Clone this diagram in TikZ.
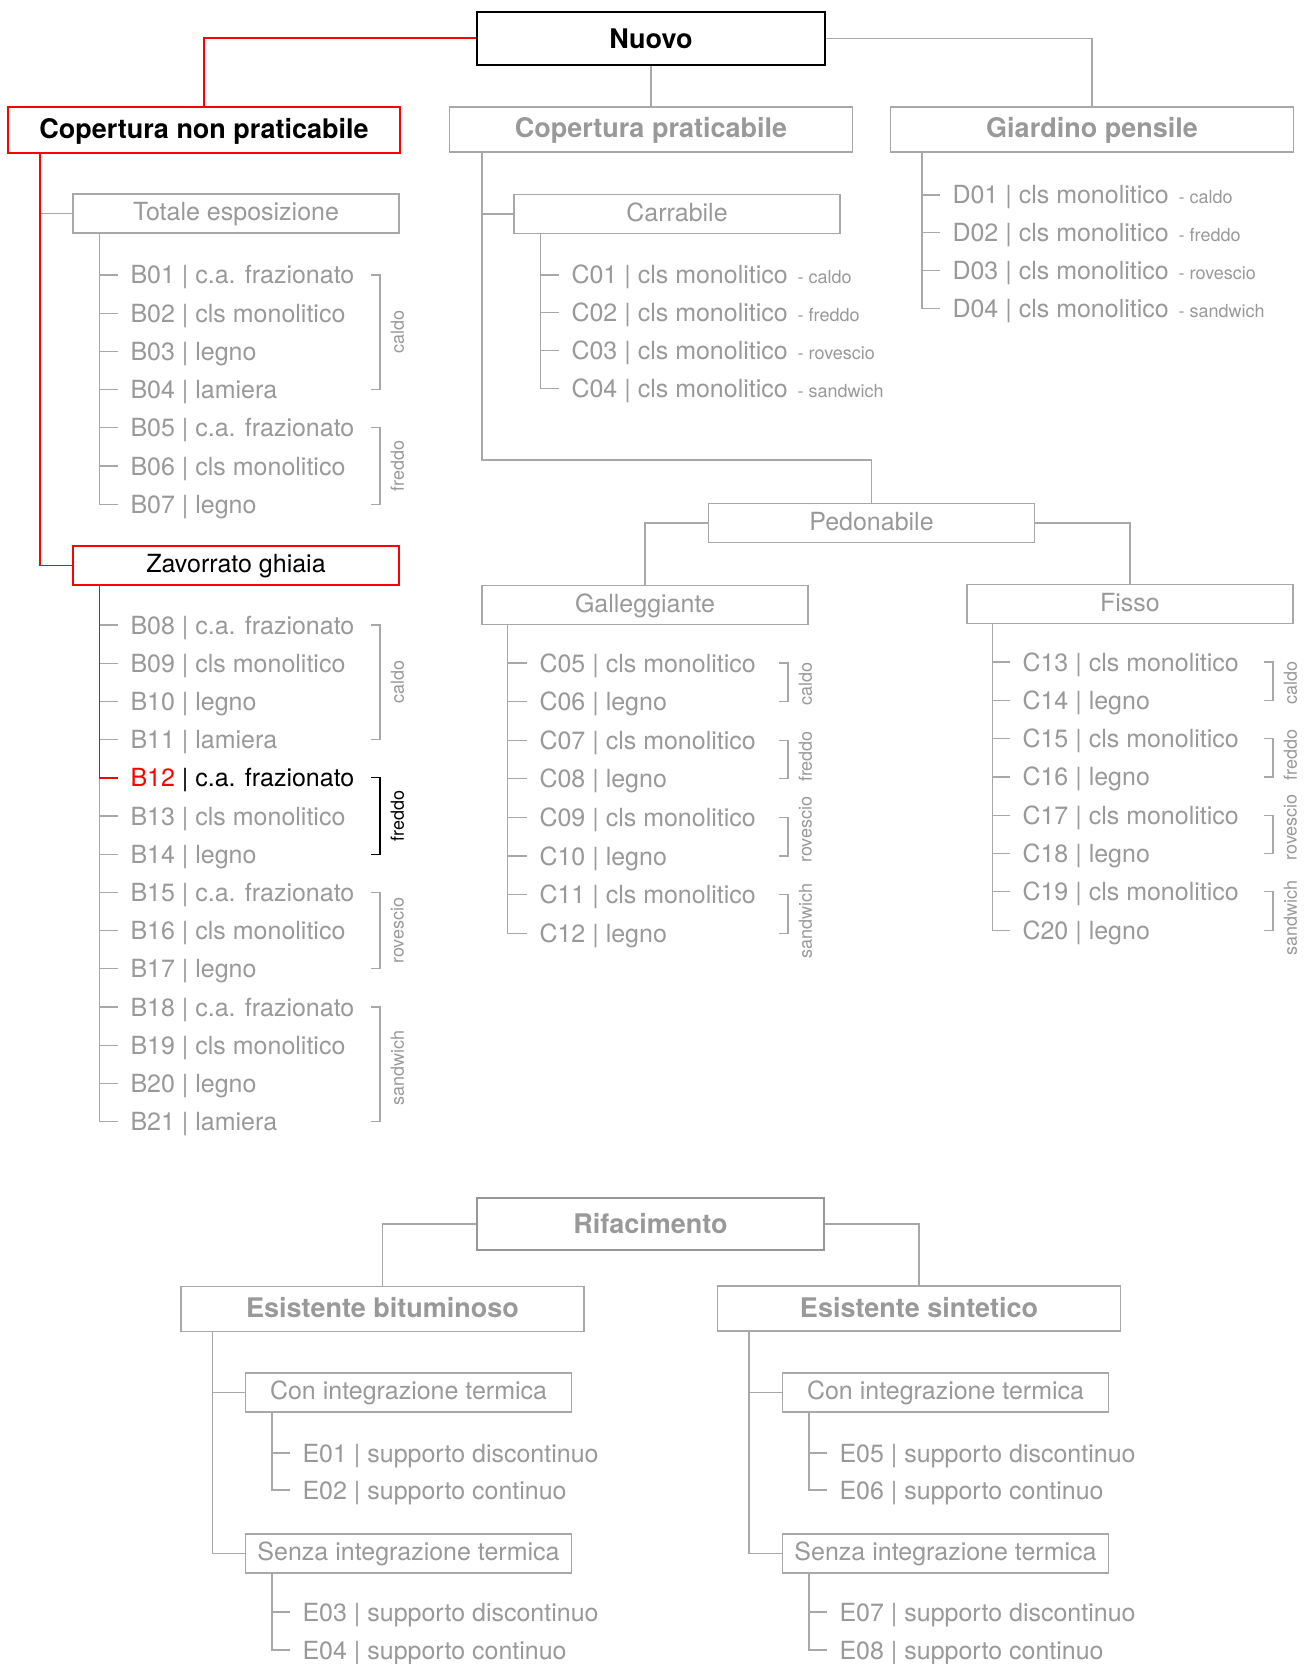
\documentclass[tikz,border=0pt]{standalone}
\usepackage{fontspec}
\setmainfont{TeX Gyre Heros}
\usetikzlibrary{positioning}
\definecolor{txtgray}{RGB}{153,153,153}
\definecolor{lngray}{RGB}{168,168,168}
\newcommand{\pxu}{0.5pt}
\newcommand{\headfont}{\fontsize{13.5}{16}\selectfont\bfseries}
\newcommand{\itemfont}{\fontsize{12.5}{15}\selectfont}
\newcommand{\tagfont}{\fontsize{9}{11}\selectfont}
\newcommand{\suff}[1]{\hspace{1.5pt}{\tagfont #1}}
\begin{document}
\begin{tikzpicture}[x=0.5pt, y=-0.5pt,
  line/.style={draw=lngray, line width=0.6pt},
  redline/.style={draw=red, line width=0.8pt},
  headbox/.style={draw=lngray, line width=0.6pt, inner sep=0pt, minimum width=403*\pxu, minimum height=45*\pxu, font=\headfont, text=txtgray, text height=9.7pt, text depth=1.2pt},
  topbox/.style={headbox, draw=black, line width=1.3pt, text=black, text depth=0pt, minimum width=348*\pxu, minimum height=53*\pxu},
  rifbox/.style={headbox, draw=lngray!90!black, line width=1pt, text depth=0pt, minimum width=347*\pxu, minimum height=52*\pxu},
  redhead/.style={headbox, draw=red, line width=1pt, text=black, minimum width=392*\pxu, minimum height=46*\pxu},
  subbox/.style={draw=lngray, line width=0.6pt, inner sep=0pt, minimum width=326*\pxu, minimum height=39*\pxu, font=\itemfont, text=txtgray, text height=9pt, text depth=1.6pt},
  redsub/.style={subbox, draw=red, text=black},
  item/.style={anchor=west, inner sep=0pt, outer xsep=6.25pt, text height=9pt, text depth=0pt, font=\itemfont, text=txtgray},
  tag/.style={rotate=90, inner sep=0pt, font=\tagfont, text=txtgray}]
  \useasboundingbox (0,0) rectangle (1305,1664);

  % boxes
  \node[topbox] (nuovo) at (651,38.5) {Nuovo};
  \node[redhead] (cnp) at (204,130) {Copertura non praticabile};
  \node[headbox] (cp) at (651,129.5) {Copertura praticabile};
  \node[headbox] (gp) at (1092,129.5) {Giardino pensile};
  \node[subbox] (tot) at (236,213.5) {Totale esposizione};
  \node[redsub] (zav) at (236,565.5) {Zavorrato ghiaia};
  \node[subbox] (carr) at (677,214) {Carrabile};
  \node[subbox] (ped) at (871.5,523) {Pedonabile};
  \node[subbox] (gal) at (645,605) {Galleggiante};
  \node[subbox] (fis) at (1130,604) {Fisso};
  \node[rifbox] (rif) at (650.5,1224) {Rifacimento};
  \node[headbox] (eb) at (382.5,1309) {Esistente bituminoso};
  \node[headbox] (es) at (919,1308.5) {Esistente sintetico};
  \node[subbox] (con1) at (408.5,1392.5) {Con integrazione termica};
  \node[subbox] (sen1) at (408.5,1553.5) {Senza integrazione termica};
  \node[subbox] (con2) at (945.5,1392.5) {Con integrazione termica};
  \node[subbox] (sen2) at (945.5,1553.5) {Senza integrazione termica};

  % items
  \foreach \n/\txt [count=\i from 0] in {B01/c.a. frazionato, B02/cls monolitico, B03/legno, B04/lamiera, B05/c.a. frazionato, B06/cls monolitico, B07/legno}
    \node[item] (\n) at (118,275+38.2*\i) {\n{} | \txt};
  \foreach \n/\txt/\i in {B08/c.a. frazionato/0, B09/cls monolitico/1, B10/legno/2, B11/lamiera/3, B13/cls monolitico/5, B14/legno/6, B15/c.a. frazionato/7, B16/cls monolitico/8, B17/legno/9, B18/c.a. frazionato/10, B19/cls monolitico/11, B20/legno/12, B21/lamiera/13}
    \node[item] (\n) at (118,625+38.2*\i) {\n{} | \txt};
  \node[item, text=black] (B12) at (118,625+38.2*4) {\textcolor{red}{B12} | c.a. frazionato};
  \foreach \n/\txt [count=\i from 0] in {C01/caldo, C02/freddo, C03/rovescio, C04/sandwich}
    \node[item] (\n) at (559,275+37.7*\i) {\n{} | cls monolitico \suff{- \txt}};
  \foreach \n/\txt [count=\i from 0] in {D01/caldo, D02/freddo, D03/rovescio, D04/sandwich}
    \node[item] (\n) at (940,195+37.7*\i) {\n{} | cls monolitico \suff{- \txt}};
  \foreach \n/\txt [count=\i from 0] in {C05/cls monolitico, C06/legno, C07/cls monolitico, C08/legno, C09/cls monolitico, C10/legno, C11/cls monolitico, C12/legno}
    \node[item] (\n) at (527,663+38.6*\i) {\n{} | \txt};
  \foreach \n/\txt [count=\i from 0] in {C13/cls monolitico, C14/legno, C15/cls monolitico, C16/legno, C17/cls monolitico, C18/legno, C19/cls monolitico, C20/legno}
    \node[item] (\n) at (1010,662+38.3*\i) {\n{} | \txt};
  \foreach \n/\txt/\x/\y in {E01/discontinuo/290/1453, E02/continuo/290/1490, E03/discontinuo/290/1612, E04/continuo/290/1650, E05/discontinuo/827/1453, E06/continuo/827/1490, E07/discontinuo/827/1612, E08/continuo/827/1650}
    \node[item] (\n) at (\x,\y) {\n{} | supporto \txt};

  % spines
  \coordinate (cnpS) at ([xshift=16.5pt]cnp.south west);
  \coordinate (totS) at ([xshift=13.5pt]tot.south west);
  \coordinate (zavS) at ([xshift=13.5pt]zav.south west);
  \coordinate (cpS) at ([xshift=16.5pt]cp.south west);
  \coordinate (carrS) at ([xshift=13.5pt]carr.south west);
  \coordinate (gpS) at ([xshift=16pt]gp.south west);
  \coordinate (galS) at ([xshift=13pt]gal.south west);
  \coordinate (fisS) at ([xshift=13pt]fis.south west);
  \coordinate (ebS) at ([xshift=16pt]eb.south west);
  \coordinate (esS) at ([xshift=16pt]es.south west);
  \coordinate (con1S) at ([xshift=13.5pt]con1.south west);
  \coordinate (sen1S) at ([xshift=13.5pt]sen1.south west);
  \coordinate (con2S) at ([xshift=13.5pt]con2.south west);
  \coordinate (sen2S) at ([xshift=13.5pt]sen2.south west);
  \coordinate (pedK) at ([yshift=21.5pt]ped.north);

  % connectors
  \draw[line] (nuovo.south) -- (cp.north);
  \draw[line] (nuovo.east) -| (gp.north);
  \draw[redline, line width=1pt] (nuovo.west) -| (cnp.north);
  \draw[line] (cnpS |- tot.west) -- (tot.west);
  \draw[redline] (cnpS) |- (zav.west);
  \draw[line] (cpS |- carr.west) -- (carr.west);
  \draw[line] (cpS) |- (pedK) -- (ped.north);
  \draw[line] (ped.west) -| (gal.north);
  \draw[line] (ped.east) -| (fis.north);
  \draw[line] (rif.west) -| (eb.north);
  \draw[line] (rif.east) -| (es.north);
  \draw[line] (ebS |- con1.west) -- (con1.west);
  \draw[line] (ebS) |- (sen1.west);
  \draw[line] (esS |- con2.west) -- (con2.west);
  \draw[line] (esS) |- (sen2.west);

  % ticks
  \foreach \s/\n in {totS/B01, totS/B02, totS/B03, totS/B04, totS/B05, totS/B06, zavS/B08, zavS/B09, zavS/B10, zavS/B11, zavS/B13, zavS/B14, zavS/B15, zavS/B16, zavS/B17, zavS/B18, zavS/B19, zavS/B20, carrS/C01, carrS/C02, carrS/C03, gpS/D01, gpS/D02, gpS/D03, galS/C05, galS/C06, galS/C07, galS/C08, galS/C09, galS/C10, galS/C11, fisS/C13, fisS/C14, fisS/C15, fisS/C16, fisS/C17, fisS/C18, fisS/C19, con1S/E01, sen1S/E03, con2S/E05, sen2S/E07}
    \draw[line] (\s |- \n.west) -- (\n.west);
  \foreach \s/\n in {totS/B07, carrS/C04, gpS/D04, galS/C12, fisS/C20, con1S/E02, sen1S/E04, con2S/E06, sen2S/E08}
    \draw[line] (\s) |- (\n.west);
  \draw[line] (zavS |- B12.west) |- (B21.west);
  \draw[redline] (zavS) |- (B12.west);

  % brackets
  \foreach \x/\a/\b/\txt/\d [evaluate=\x as \xl using \x-9, evaluate=\x as \xt using \x+17.5] in {380/B01/B04/caldo/0, 380/B05/B07/freddo/0, 380/B08/B11/caldo/0, 380/B15/B17/rovescio/0, 380/B18/B21/sandwich/4, 788/C05/C06/caldo/2, 788/C07/C08/freddo/-3, 788/C09/C10/rovescio/-7, 788/C11/C12/sandwich/7, 1273/C13/C14/caldo/2, 1273/C15/C16/freddo/-3, 1273/C17/C18/rovescio/-7, 1273/C19/C20/sandwich/7} {
    \draw[line] (\xl,0 |- \a.west) -| (\x,0 |- \b.west) -- (\xl,0 |- \b.west);
    \path (\a.west) -- coordinate (mid) (\b.west);
    \node[tag, xshift=-\d*\pxu] at (\xt,0 |- mid) {\txt};
  }
  \draw[draw=black, line width=0.6pt] (371,0 |- B12.west) -| (380,0 |- B14.west) -- (371,0 |- B14.west);
  \path (B12.west) -- coordinate (midk) (B14.west);
  \node[tag, text=black] at (397.5,0 |- midk) {freddo};
\end{tikzpicture}
\end{document}
